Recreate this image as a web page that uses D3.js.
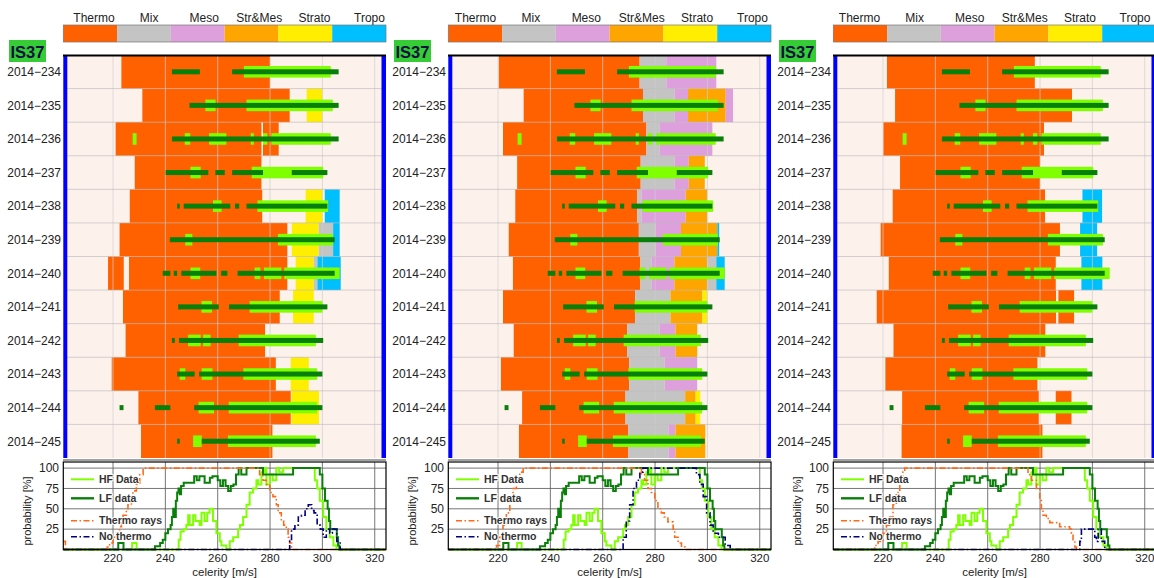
<!DOCTYPE html>
<html>
<head>
<meta charset="utf-8">
<title>IS37 celerity</title>
<script src="https://cdn.jsdelivr.net/npm/d3@7"></script>
<style>
  body { margin: 0; background: #fff; }
  svg text { font-family: "Liberation Sans", Arial, sans-serif; fill: #222; }
</style>
</head>
<body>
<svg id="chart" width="1154" height="578"></svg>
<script>
// ---- data ----
const days = ["2014\u2212234", "2014\u2212235", "2014\u2212236", "2014\u2212237", "2014\u2212238", "2014\u2212239",
              "2014\u2212240", "2014\u2212241", "2014\u2212242", "2014\u2212243", "2014\u2212244", "2014\u2212245"]
const categories = ["Thermo", "Mix", "Meso", "Str&Mes", "Strato", "Tropo"]
const xTicks = [220, 240, 260, 280, 300, 320]
const yTicks = [25, 50, 75, 100]

// phase bands per day: [from, to, category index]
const bandsA = [
  [[223.2, 280, 0]],
  [[231.2, 287.5, 0], [294, 300, 4]],
  [[221, 276.7, 0], [277.3, 283.3, 0]],
  [[228.3, 276.7, 0]],
  [[226.4, 277, 0], [293.6, 300, 4], [300.9, 306.6, 5]],
  [[222.5, 286.6, 0], [288.3, 298.6, 4], [298.6, 304.1, 1], [304.1, 306.6, 5]],
  [[218.1, 224.1, 0], [226.1, 286.6, 0], [289.8, 296.7, 4], [296.7, 298.1, 1], [298.1, 307, 5]],
  [[223.8, 283.7, 0], [288.8, 296.7, 4]],
  [[224.8, 278.1, 0]],
  [[219.5, 282.2, 0], [287.9, 294.8, 4]],
  [[229.7, 287.9, 0], [288.2, 298.7, 4]],
  [[230.7, 280.9, 0]]
]
const bandsB = [
  [[220.3, 274.1, 0], [274.1, 284.3, 1], [284.3, 303.4, 2]],
  [[229.8, 275.4, 0], [275.4, 287.4, 1], [287.4, 292.6, 2], [292.6, 307, 3], [307, 309.8, 2]],
  [[221.9, 276.7, 0], [276.7, 281.8, 1], [281.8, 301.9, 2]],
  [[227.3, 274.5, 0], [274.5, 287.4, 1], [287.4, 292.9, 2], [292.9, 299, 3]],
  [[226.6, 273.2, 0], [273.2, 274.8, 1], [274.8, 291.7, 2], [291.7, 299.9, 3]],
  [[224.1, 273.8, 0], [273.8, 280.3, 1], [280.3, 289.9, 2], [289.9, 303.8, 3], [303.8, 304.5, 5]],
  [[225.7, 274.4, 0], [274.4, 278.7, 1], [278.7, 287.4, 2], [287.4, 299.9, 3], [299.9, 303.4, 1], [303.4, 306.6, 5]],
  [[221.9, 272.4, 0], [272.4, 285.9, 1], [285.9, 298.1, 3], [298.1, 299.9, 4]],
  [[226, 269.4, 0], [269.4, 281.8, 1], [281.8, 287.8, 2], [287.8, 296.1, 3]],
  [[221.1, 270.1, 0], [270.1, 283.7, 1], [283.7, 296.1, 2]],
  [[229.2, 268.7, 0], [268.7, 291.5, 1], [291.5, 295.5, 3], [295.5, 297.3, 4]],
  [[228, 269.7, 0], [269.7, 285.1, 1], [285.1, 287.8, 2], [287.8, 299.2, 3]]
]
const bandsC = [
  [[221.5, 278, 0]],
  [[224.6, 292.2, 0]],
  [[220.1, 281.5, 0]],
  [[226.5, 280, 0]],
  [[223.7, 281.9, 0], [296.2, 303.7, 5]],
  [[219.1, 287.6, 0], [295.3, 301.8, 5]],
  [[222.2, 286, 0], [295.8, 303.8, 5]],
  [[217.6, 286.1, 0], [287, 293, 0]],
  [[224, 282, 0]],
  [[220.9, 279, 0]],
  [[227.3, 279.5, 0], [286, 292, 0]],
  [[227.1, 280.9, 0]]
]

// detections per day: [from, to]
const hfBars = [
  [[270, 303.2]],
  [[255.3, 259.2], [271, 304]],
  [[227.5, 229], [247.4, 249.5], [256.7, 263.3], [272.6, 273.8], [277.3, 279], [280.5, 303.2]],
  [[249.6, 253.5], [273, 300.3]],
  [[258.2, 261.5], [275.2, 302.2]],
  [[247.6, 250.3], [283, 304]],
  [[249.6, 253.3], [274.1, 276.3], [277.7, 284.3], [285.4, 306.6]],
  [[253.8, 257.8], [272.2, 300]],
  [[248.7, 253.5], [254.4, 257.3], [268, 297.5]],
  [[245.5, 247.6], [253.9, 258], [269.8, 298]],
  [[252.7, 258.6], [264.2, 298]],
  [[250.6, 253.9], [263.9, 297.5]]
]
const lfBars = [
  [[242.5, 253.2], [265.5, 306.2]],
  [[249.2, 306.2]],
  [[242.5, 306.2]],
  [[240.1, 256.4], [259.1, 262.7], [265.5, 277.3], [288.3, 301.9]],
  [[244.5, 245.5], [247, 264.8], [266.6, 268.2], [271, 301.9]],
  [[241.7, 304.7]],
  [[239, 241.9], [243.2, 244.5], [246.1, 259.5], [261.3, 263.7], [267.6, 304.7]],
  [[244.9, 245.1], [245.1, 260.4], [264.3, 301.9]],
  [[242.5, 243.6], [245.2, 300.3]],
  [[244.5, 251.2], [252.9, 300]],
  [[222.5, 224], [236, 241.9], [251, 300]],
  [[244.5, 245.5], [253.9, 299]]
]

// probability curves, step after: [celerity, %]
const hfProb = [[201, 0], [227.3, 8], [229, 0], [245.1, 12], [245.8, 22], [247, 25], [248, 30], [248.7, 42], [249.3, 30],
  [250.6, 42], [251.5, 35], [253.1, 30], [253.8, 45], [255, 35], [256, 45], [256.9, 50], [258.2, 35], [259.5, 20],
  [260.8, 10], [261.4, 5], [263.3, 0], [264.6, 10], [265.9, 15], [267.8, 25], [268.5, 30], [269.7, 40], [271, 55],
  [272.2, 70], [273.5, 75], [274.8, 85], [275.5, 80], [276.7, 95], [278, 100], [278.6, 80], [279.9, 92], [281, 85],
  [282.4, 100], [283.5, 95], [285, 100], [297.1, 85], [298, 75], [299, 60], [300.3, 40], [301.5, 25], [302.8, 15],
  [304.2, 5], [305.4, 0], [324.3, 0]]
const lfProb = [[201, 0], [222, 8], [224, 0], [236, 4], [238, 8], [239, 12], [240, 20], [241, 25], [242, 30], [242.5, 40],
  [243, 50], [243.5, 40], [244, 60], [244.5, 70], [245, 75], [245.5, 68], [246, 78], [247, 82], [251, 90], [252, 85],
  [253, 90], [255, 82], [257, 88], [258, 90], [260, 85], [261, 78], [262, 85], [263, 78], [264, 72], [265, 78],
  [266, 80], [267, 92], [268, 100], [269, 92], [271, 100], [277.3, 92], [288.8, 100], [299, 92], [300, 75], [301, 60],
  [302, 50], [302.5, 35], [303, 25], [305.5, 15], [306, 5], [306.5, 0], [324.3, 0]]
const thermoA = [[201, 10], [201.8, 0], [217.8, 3], [218.7, 8], [220, 15], [221.3, 20], [222.5, 28], [223.2, 35],
  [223.8, 42], [225.1, 50], [225.7, 55], [227, 65], [227.6, 72], [228.9, 80], [230.2, 92], [231.5, 100], [276, 92],
  [277.3, 85], [278.6, 80], [279.9, 70], [281.1, 65], [282.4, 55], [283.1, 45], [284.3, 35], [285.2, 30], [286.2, 25],
  [286.9, 15], [287.5, 8], [288.2, 0], [324.3, 0]]
const noThermoA = [[201, 0], [287.5, 10], [288.2, 25], [289.5, 30], [290.8, 40], [292, 42], [293.4, 50], [294.6, 55],
  [295.9, 48], [296.8, 45], [298, 30], [299.2, 25], [300.3, 15], [301.5, 25], [302.8, 20], [303.8, 25], [305.5, 10],
  [306.8, 0], [324.3, 0]]
const thermoB = [[201, 0], [219.4, 5], [220.6, 15], [221.9, 30], [223.2, 45], [224.5, 60], [225.7, 75], [227, 85],
  [228.3, 95], [229.6, 100], [274.8, 92], [276, 85], [277.3, 75], [278.6, 70], [279.9, 60], [281.1, 50], [282.4, 45],
  [283.5, 40], [284.9, 34], [286.9, 25], [287.5, 15], [288.8, 8], [290.1, 3], [291.5, 0], [324.3, 0]]
const noThermoB = [[201, 0], [267.8, 15], [269, 35], [270.3, 55], [271.6, 75], [272.9, 85], [274.2, 95], [275.4, 100],
  [295.8, 92], [297.1, 80], [298.4, 65], [299.7, 45], [301, 30], [302.2, 20], [304.2, 15], [306.8, 5], [308.7, 0],
  [324.3, 0]]
const thermoC = [[201, 0], [216.8, 5], [218.1, 10], [220, 20], [221.3, 30], [222.5, 40], [223.8, 55], [225.1, 70],
  [226.4, 85], [227.6, 95], [228.3, 100], [275.4, 92], [276.7, 85], [278.6, 75], [279.9, 60], [280.5, 50], [281.1, 42],
  [282.4, 38], [283.7, 33], [287.5, 28], [291.3, 25], [292, 20], [292.6, 12], [293.3, 3], [293.9, 0], [324.3, 0]]
const noThermoC = [[201, 0], [295.2, 10], [295.8, 25], [300.9, 15], [301.5, 10], [302.2, 25], [303.4, 10], [304.7, 0],
  [324.3, 0]]

const panels = [
  { bands: bandsA, thermo: thermoA, noThermo: noThermoA },
  { bands: bandsB, thermo: thermoB, noThermo: noThermoB },
  { bands: bandsC, thermo: thermoC, noThermo: noThermoC }
]

// ---- styles ----
const catColor = d3.scaleOrdinal()
  .domain(d3.range(categories.length))
  .range(["#ff6100", "#c4c4c4", "#dda0dd", "#ffa500", "#ffee00", "#00bfff"])
const bgColor = "#fdf1ec"
const hfColor = "#7fff00", lfColor = "#087f08"
const dashDot = "6,2.5,1.5,2.5"

const svg = d3.select("#chart")
const panelX = [0, 385, 770]
// category label spread, a bit different on each panel
const labelSpread = [[94, 369.5], [90.5, 367.5], [89.5, 365]]

function drawPanel(p, i) {
  const g = svg.append("g").attr("transform", `translate(${panelX[i]},0)`)

  const x = d3.scaleLinear().domain([201, 324.3]).range([63.3, 386])
  const rows = d3.scaleBand().domain(days).range([55, 458])
  const y = d3.scaleLinear().domain([0, 107.5]).range([549.5, 462])

  // category legend bar
  const seg = d3.scaleBand().domain(d3.range(categories.length)).range([63.3, 386])
  g.append("g").selectAll("rect")
    .data(categories)
    .enter().append("rect")
    .attr("x", (d, k) => seg(k))
    .attr("y", 25)
    .attr("width", seg.bandwidth())
    .attr("height", 17)
    .attr("fill", (d, k) => catColor(k))
  g.append("rect").attr("x", 63.3).attr("y", 25).attr("width", 322.7).attr("height", 17)
    .attr("fill", "none").attr("stroke", "#777").attr("stroke-width", 0.7)
  const labelX = d3.scaleLinear().domain([0, categories.length - 1]).range(labelSpread[i])
  g.append("g").selectAll("text")
    .data(categories)
    .enter().append("text")
    .attr("x", (d, k) => labelX(k))
    .attr("y", 22)
    .attr("text-anchor", "middle")
    .style("font-size", "12px")
    .text(d => d)

  // station tag
  g.append("rect").attr("x", 9).attr("y", 40).attr("width", 37).attr("height", 22)
    .attr("fill", "#36cc36")
  g.append("text").attr("x", 27.5).attr("y", 57.5).attr("text-anchor", "middle")
    .style("font-size", "16.5px").style("font-weight", "bold").style("fill", "#0a1040")
    .text("IS37")

  // main area
  g.append("rect").attr("x", 63.3).attr("y", 55).attr("width", 322.7).attr("height", 403)
    .attr("fill", bgColor)

  days.forEach((day, r) => {
    g.append("g").selectAll("rect")
      .data(p.bands[r])
      .enter().append("rect")
      .attr("x", d => x(d[0]))
      .attr("width", d => x(d[1]) - x(d[0]))
      .attr("y", rows(day))
      .attr("height", rows.bandwidth())
      .attr("fill", d => catColor(d[2]))
  })

  // grid in main area
  g.append("g").selectAll("line")
    .data(xTicks)
    .enter().append("line")
    .attr("x1", d => x(d)).attr("x2", d => x(d))
    .attr("y1", 55).attr("y2", 458)
    .attr("stroke", "#cfcfcf").attr("stroke-opacity", 0.7).attr("stroke-width", 1)
  g.append("g").selectAll("line")
    .data(days.slice(1))
    .enter().append("line")
    .attr("x1", 63.3).attr("x2", 386)
    .attr("y1", d => rows(d)).attr("y2", d => rows(d))
    .attr("stroke", "#b8b8b8").attr("stroke-opacity", 0.6).attr("stroke-width", 1)

  // detection bars
  days.forEach((day, r) => {
    const cy = rows(day) + rows.bandwidth() / 2
    g.append("g").selectAll("rect")
      .data(hfBars[r])
      .enter().append("rect")
      .attr("x", d => x(d[0]))
      .attr("width", d => Math.max(1, x(d[1]) - x(d[0])))
      .attr("y", cy - 5.8)
      .attr("height", 11.6)
      .attr("fill", hfColor)
    g.append("g").selectAll("rect")
      .data(lfBars[r])
      .enter().append("rect")
      .attr("x", d => x(d[0]))
      .attr("width", d => Math.max(1, x(d[1]) - x(d[0])))
      .attr("y", cy - 2.5)
      .attr("height", 5)
      .attr("fill", lfColor)
  })

  // edges
  g.append("rect").attr("x", 63.3).attr("y", 55).attr("width", 4).attr("height", 403).attr("fill", "#0000ff")
  g.append("rect").attr("x", 381.5).attr("y", 55).attr("width", 4.5).attr("height", 403).attr("fill", "#0000ff")
  g.append("line").attr("x1", 63).attr("x2", 386).attr("y1", 55.5).attr("y2", 55.5)
    .attr("stroke", "#000").attr("stroke-width", 2)

  // day labels
  g.append("g").selectAll("text")
    .data(days)
    .enter().append("text")
    .attr("x", 61)
    .attr("y", d => rows(d) + rows.bandwidth() / 2)
    .attr("dy", "0.36em")
    .attr("text-anchor", "end")
    .style("font-size", "12px")
    .text(d => d)

  // probability plot
  g.append("rect").attr("x", 63.3).attr("y", 462).attr("width", 322.7).attr("height", 87.5).attr("fill", "#fff")
  g.append("g").selectAll("line")
    .data(xTicks)
    .enter().append("line")
    .attr("x1", d => x(d)).attr("x2", d => x(d))
    .attr("y1", 462).attr("y2", 549.5)
    .attr("stroke", "#666").attr("stroke-width", 0.9)
  g.append("g").selectAll("line")
    .data(yTicks)
    .enter().append("line")
    .attr("x1", 63.3).attr("x2", 386)
    .attr("y1", d => y(d)).attr("y2", d => y(d))
    .attr("stroke", "#666").attr("stroke-width", 0.9)

  const line = d3.line().x(d => x(d[0])).y(d => y(d[1])).curve(d3.curveStepAfter)
  g.append("path").attr("d", line(hfProb)).attr("fill", "none").attr("stroke", hfColor).attr("stroke-width", 2)
  g.append("path").attr("d", line(lfProb)).attr("fill", "none").attr("stroke", "#0a800a").attr("stroke-width", 2)
  g.append("path").attr("d", line(p.thermo)).attr("fill", "none").attr("stroke", "#ff6a1a")
    .attr("stroke-width", 1.6).attr("stroke-dasharray", dashDot)
  g.append("path").attr("d", line(p.noThermo)).attr("fill", "none").attr("stroke", "#00007f")
    .attr("stroke-width", 1.6).attr("stroke-dasharray", dashDot)

  g.append("rect").attr("x", 63.3).attr("y", 462).attr("width", 322.7).attr("height", 87.5)
    .attr("fill", "none").attr("stroke", "#000").attr("stroke-width", 1.2)
  g.append("line").attr("x1", 63).attr("x2", 386).attr("y1", 460).attr("y2", 460)
    .attr("stroke", "#444").attr("stroke-width", 1)

  // axes labels
  g.append("g").selectAll("text")
    .data(xTicks)
    .enter().append("text")
    .attr("x", d => x(d)).attr("y", 562)
    .attr("text-anchor", "middle")
    .style("font-size", "11.5px")
    .text(d => d)
  g.append("g").selectAll("text")
    .data(yTicks)
    .enter().append("text")
    .attr("x", 59).attr("y", d => y(d))
    .attr("dy", "0.36em")
    .attr("text-anchor", "end")
    .style("font-size", "12px")
    .text(d => d)
  g.append("text").attr("x", 224.6).attr("y", 576).attr("text-anchor", "middle")
    .style("font-size", "11.5px").text("celerity [m/s]")
  g.append("text").attr("transform", "translate(31,511) rotate(-90)").attr("text-anchor", "middle")
    .style("font-size", "11px").text("probability [%]")

  // legend of probability plot
  const legendItems = [
    { name: "HF Data", color: hfColor, dash: null, w: 2, y: 479.3 },
    { name: "LF data", color: "#0a800a", dash: null, w: 2.4, y: 498.3 },
    { name: "Thermo rays", color: "#ff6a1a", dash: dashDot, w: 1.6, y: 520.7 },
    { name: "No thermo", color: "#00007f", dash: dashDot, w: 1.6, y: 536.7 }
  ]
  const lg = g.append("g").selectAll("g").data(legendItems).enter().append("g")
  lg.append("line").attr("x1", 71).attr("x2", 94).attr("y1", d => d.y).attr("y2", d => d.y)
    .attr("stroke", d => d.color).attr("stroke-width", d => d.w)
    .attr("stroke-dasharray", d => d.dash)
  lg.append("text").attr("x", 99).attr("y", d => d.y).attr("dy", "0.36em")
    .style("font-size", "10.5px").style("font-weight", "bold").style("fill", "#333")
    .style("paint-order", "stroke").style("stroke", "#fff").style("stroke-width", 2)
    .text(d => d.name)
}

panels.forEach(drawPanel)
</script>
</body>
</html>
